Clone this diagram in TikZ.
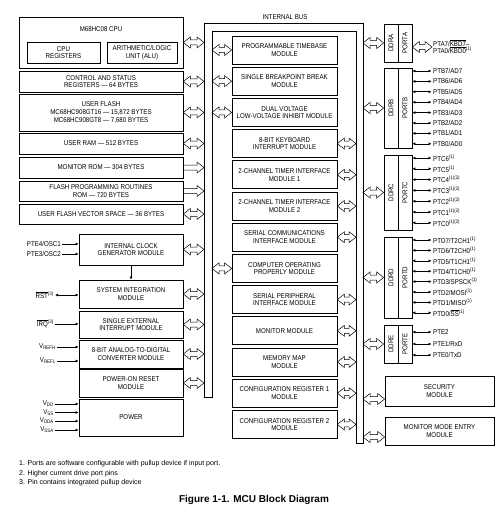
\documentclass[tikz,border=0pt]{standalone}
\usepackage{fontspec}
\setmainfont{Liberation Sans}
\newfontfamily\narrowfont{Liberation Sans}[FakeStretch=0.88]
\usetikzlibrary{calc,arrows.meta}
\newcommand{\ovl}[1]{$\overline{\mbox{#1}}$}
\newcommand{\busarrow}[2]{%
  \path (#1) coordinate (ba1) (#2) coordinate (ba2);
  \draw[busline] (ba1) -- ++(7,-5.5) -- ++(0,3) -- ($(ba2)+(-7,-2.5)$) -- ++(0,-3) -- (ba2)
    -- ++(-7,5.5) -- ++(0,-3) -- ($(ba1)+(7,2.5)$) -- ++(0,3) -- cycle;}
\newcommand{\busarrowR}[2]{%
  \path (#1) coordinate (ba1) (#2) coordinate (ba2);
  \draw[busline] ($(ba1)+(0,-2.5)$) -- ($(ba2)+(-7,-2.5)$) -- ++(0,-3) -- (ba2)
    -- ++(-7,5.5) -- ++(0,-3) -- ($(ba1)+(0,2.5)$);}
\tikzset{
  blk/.style={draw, line width=0.7pt, align=center, inner sep=0pt,
    font=\narrowfont\fontsize{7}{7.6}\selectfont},
  portbox/.style={blk, minimum width=14pt},
  lbl/.style={inner sep=1pt, font=\narrowfont\fontsize{7}{7.6}\selectfont},
  pinlbl/.style={lbl, anchor=west},
  busline/.style={line width=0.5pt},
  pinarr/.style={{Latex[length=3pt,width=3pt]}-{Latex[length=3pt,width=3pt]}, line width=0.6pt},
  inarr/.style={-{Latex[length=3pt,width=3pt]}, line width=0.6pt},
  note/.style={anchor=west, inner sep=0pt, font=\fontsize{7}{8}\selectfont}
}
\begin{document}
\begin{tikzpicture}[x=1pt,y=-1pt]
\useasboundingbox (0,0) rectangle (498,516);

\coordinate (busL) at (204,0);
\coordinate (busLi) at (212,0);
\coordinate (busRi) at (356,0);
\coordinate (busR) at (363,0);
\draw[line width=0.7pt] (204,397) -- (204,23) -- (363,23) -- (363,443) -- (356,443)
  -- (356,31) -- (212,31) -- (212,397) -- cycle;
\node[lbl] (buslbl) at (285,17) {INTERNAL BUS};

\node[blk, minimum width=164pt, minimum height=51pt] (cpu) at (101,42.5) {};
\node[lbl] (cpulbl) at (101,29) {M68HC08 CPU};
\node[blk, minimum width=73pt, minimum height=21pt] (cpureg) at (63.5,52.5) {CPU\\REGISTERS};
\node[blk, minimum width=70pt, minimum height=21pt] (alu) at (142,52.5) {ARITHMETIC/LOGIC\\UNIT (ALU)};
\node[blk, minimum width=164pt, minimum height=21pt] (csr) at (101,81.5) {CONTROL AND STATUS\\REGISTERS — 64 BYTES};
\node[blk, minimum width=164pt, minimum height=37pt] (uflash) at (101,112.5) {USER FLASH\\MC68HC908GT16 — 15,872 BYTES\\MC68HC908GT8 — 7,680 BYTES};
\node[blk, minimum width=164pt, minimum height=21pt] (uram) at (101,143.5) {USER RAM — 512 BYTES};
\node[blk, minimum width=164pt, minimum height=21pt] (monrom) at (101,167.5) {MONITOR ROM — 304 BYTES};
\node[blk, minimum width=164pt, minimum height=20pt] (flashrom) at (101,191) {FLASH PROGRAMMING ROUTINES\\ROM — 720 BYTES};
\node[blk, minimum width=164pt, minimum height=20pt] (vecspace) at (101,214) {USER FLASH VECTOR SPACE — 36 BYTES};

\node[blk, minimum width=104pt, minimum height=31pt] (icg) at (131,249.5) {INTERNAL CLOCK\\GENERATOR MODULE};
\node[blk, minimum width=104pt, minimum height=28pt] (sim) at (131,294) {SYSTEM INTEGRATION\\MODULE};
\node[blk, minimum width=104pt, minimum height=27pt] (sei) at (131,324.5) {SINGLE EXTERNAL\\INTERRUPT MODULE};
\node[blk, minimum width=104pt, minimum height=28pt] (adc) at (131,354) {8-BIT ANALOG-TO-DIGITAL\\CONVERTER MODULE};
\node[blk, minimum width=104pt, minimum height=28pt] (por) at (131,383) {POWER-ON RESET\\MODULE};
\node[blk, minimum width=104pt, minimum height=37pt] (power) at (131,417.5) {POWER};

\busarrow{cpu.east}{cpu.east -| busL}
\busarrow{csr.east}{csr.east -| busL}
\busarrow{uflash.east}{uflash.east -| busL}
\busarrow{uram.east}{uram.east -| busL}
\busarrowR{monrom.east}{monrom.east -| busL}
\busarrowR{flashrom.east}{flashrom.east -| busL}
\busarrow{vecspace.east}{vecspace.east -| busL}
\busarrow{icg.east}{icg.east -| busL}
\busarrow{sim.east}{sim.east -| busL}
\busarrow{sei.east}{sei.east -| busL}
\busarrow{adc.east}{adc.east -| busL}
\busarrow{por.east}{por.east -| busL}

\node[lbl, anchor=east] (osc1) at (62,244) {PTE4/OSC1};
\node[lbl, anchor=east] (osc2) at (62,254) {PTE3/OSC2};
\draw[inarr] (osc1.east) -- (osc1.east -| icg.west);
\draw[inarr] (osc2.east) -- (osc2.east -| icg.west);
\draw[inarr] (icg.south) -- (sim.north);
\node[lbl, anchor=east] (rst) at (55,295) {\ovl{RST}\textsuperscript{(3)}};
\draw[pinarr] (rst.east) -- (rst.east -| sim.west);
\node[lbl, anchor=east] (irq) at (55,324) {\ovl{IRQ}\textsuperscript{(3)}};
\draw[inarr] (irq.east) -- (irq.east -| sei.west);
\node[lbl, anchor=east] (vrefh) at (57,347) {V\textsubscript{REFH}};
\node[lbl, anchor=east] (vrefl) at (57,361) {V\textsubscript{REFL}};
\draw[inarr] (vrefh.east) -- (vrefh.east -| adc.west);
\draw[inarr] (vrefl.east) -- (vrefl.east -| adc.west);
\node[lbl, anchor=east] (vdd) at (55,404) {V\textsubscript{DD}};
\node[lbl, anchor=east] (vss) at (55,412.5) {V\textsubscript{SS}};
\node[lbl, anchor=east] (vdda) at (55,421) {V\textsubscript{DDA}};
\node[lbl, anchor=east] (vssa) at (55,430) {V\textsubscript{SSA}};
\draw[inarr] (vdd.east) -- (vdd.east -| power.west);
\draw[inarr] (vss.east) -- (vss.east -| power.west);
\draw[inarr] (vdda.east) -- (vdda.east -| power.west);
\draw[inarr] (vssa.east) -- (vssa.east -| power.west);

\node[blk, minimum width=105pt, minimum height=28pt] (tbm) at (284.5,50) {PROGRAMMABLE TIMEBASE\\MODULE};
\node[blk, minimum width=105pt, minimum height=28pt] (sbb) at (284.5,81.2) {SINGLE BREAKPOINT BREAK\\MODULE};
\node[blk, minimum width=105pt, minimum height=28pt] (lvi) at (284.5,112.4) {DUAL VOLTAGE\\LOW-VOLTAGE INHIBIT MODULE};
\node[blk, minimum width=105pt, minimum height=28pt] (kbi) at (284.5,143.6) {8-BIT KEYBOARD\\INTERRUPT MODULE};
\node[blk, minimum width=105pt, minimum height=28pt] (tim1) at (284.5,174.8) {2-CHANNEL TIMER INTERFACE\\MODULE 1};
\node[blk, minimum width=105pt, minimum height=28pt] (tim2) at (284.5,206) {2-CHANNEL TIMER INTERFACE\\MODULE 2};
\node[blk, minimum width=105pt, minimum height=28pt] (sci) at (284.5,237.2) {SERIAL COMMUNICATIONS\\INTERFACE MODULE};
\node[blk, minimum width=105pt, minimum height=28pt] (cop) at (284.5,268.4) {COMPUTER OPERATING\\PROPERLY MODULE};
\node[blk, minimum width=105pt, minimum height=28pt] (spi) at (284.5,299.6) {SERIAL PERIPHERAL\\INTERFACE MODULE};
\node[blk, minimum width=105pt, minimum height=28pt] (mon) at (284.5,330.8) {MONITOR MODULE};
\node[blk, minimum width=105pt, minimum height=28pt] (mmap) at (284.5,362) {MEMORY MAP\\MODULE};
\node[blk, minimum width=105pt, minimum height=28pt] (cfg1) at (284.5,393.2) {CONFIGURATION REGISTER 1\\MODULE};
\node[blk, minimum width=105pt, minimum height=28pt] (cfg2) at (284.5,424.4) {CONFIGURATION REGISTER 2\\MODULE};

\busarrow{tbm.west -| busLi}{tbm.west}
\busarrow{sbb.west -| busLi}{sbb.west}
\busarrow{lvi.west -| busLi}{lvi.west}
\busarrow{cop.west -| busLi}{cop.west}
\busarrow{kbi.east}{kbi.east -| busRi}
\busarrow{tim1.east}{tim1.east -| busRi}
\busarrow{tim2.east}{tim2.east -| busRi}
\busarrow{sci.east}{sci.east -| busRi}
\busarrow{spi.east}{spi.east -| busRi}
\busarrow{mon.east}{mon.east -| busRi}
\busarrow{mmap.east}{mmap.east -| busRi}
\busarrow{cfg1.east}{cfg1.east -| busRi}
\busarrow{cfg2.east}{cfg2.east -| busRi}

\node[portbox, minimum height=38pt] (ddra) at (391,43) {\rotatebox{90}{DDRA}};
\node[portbox, minimum height=38pt] (porta) at (405,43) {\rotatebox{90}{PORTA}};
\node[portbox, minimum height=80pt] (ddrb) at (391,108) {\rotatebox{90}{DDRB}};
\node[portbox, minimum height=80pt] (portb) at (405,108) {\rotatebox{90}{PORTB}};
\node[portbox, minimum height=75pt] (ddrc) at (391,192.5) {\rotatebox{90}{DDRC}};
\node[portbox, minimum height=75pt] (portc) at (405,192.5) {\rotatebox{90}{PORTC}};
\node[portbox, minimum height=81pt] (ddrd) at (391,277.5) {\rotatebox{90}{DDRD}};
\node[portbox, minimum height=81pt] (portd) at (405,277.5) {\rotatebox{90}{PORTD}};
\node[portbox, minimum height=38pt] (ddre) at (391,344) {\rotatebox{90}{DDRE}};
\node[portbox, minimum height=38pt] (porte) at (405,344) {\rotatebox{90}{PORTE}};

\busarrow{ddra.west -| busR}{ddra.west}
\busarrow{ddrb.west -| busR}{ddrb.west}
\busarrow{ddrc.west -| busR}{ddrc.west}
\busarrow{ddrd.west -| busR}{ddrd.west}
\busarrow{ddre.west -| busR}{ddre.west}

\node[pinlbl, align=left, font=\narrowfont\fontsize{7}{7}\selectfont] (pa) at (432,47) {PTA7/\ovl{KBD7}–\\PTA0/\ovl{KBD0}\textsuperscript{(1)}};
\busarrow{pa.west -| porta.east}{pa.west}

\foreach \t [count=\i] in {{PTB7/AD7},{PTB6/AD6},{PTB5/AD5},{PTB4/AD4},{PTB3/AD3},{PTB2/AD2},{PTB1/AD1},{PTB0/AD0}}{
  \node[pinlbl] (pb\i) at (432,{71+10.4*(\i-1)}) {\t};
  \draw[pinarr, shorten >=0.5pt] (pb\i.west -| portb.east) -- (pb\i.west);
}
\foreach \t [count=\i] in {PTC6\textsuperscript{(1)},PTC5\textsuperscript{(1)},PTC4\textsuperscript{(1)(2)},PTC3\textsuperscript{(1)(2)},PTC2\textsuperscript{(1)(2)},PTC1\textsuperscript{(1)(2)},PTC0\textsuperscript{(1)(2)}}{
  \node[pinlbl] (pc\i) at (432,{158+10.8*(\i-1)}) {\t};
  \draw[pinarr, shorten >=0.5pt] (pc\i.west -| portc.east) -- (pc\i.west);
}
\foreach \t [count=\i] in {{PTD7/T2CH1\textsuperscript{(1)}},{PTD6/T2CH0\textsuperscript{(1)}},{PTD5/T1CH1\textsuperscript{(1)}},{PTD4/T1CH0\textsuperscript{(1)}},{PTD3/SPSCK\textsuperscript{(1)}},{PTD2/MOSI\textsuperscript{(1)}},{PTD1/MISO\textsuperscript{(1)}},{PTD0/\ovl{SS}\textsuperscript{(1)}}}{
  \node[pinlbl] (pd\i) at (432,{240+10.4*(\i-1)}) {\t};
  \draw[pinarr, shorten >=0.5pt] (pd\i.west -| portd.east) -- (pd\i.west);
}
\node[pinlbl] (pe1) at (432,332) {PTE2};
\node[pinlbl] (pe2) at (432,344) {PTE1/RxD};
\node[pinlbl] (pe3) at (432,355) {PTE0/TxD};
\draw[pinarr, shorten >=0.5pt] (pe1.west -| porte.east) -- (pe1.west);
\draw[pinarr, shorten >=0.5pt] (pe2.west -| porte.east) -- (pe2.west);
\draw[pinarr, shorten >=0.5pt] (pe3.west -| porte.east) -- (pe3.west);

\node[blk, minimum width=109pt, minimum height=30pt] (sec) at (439.5,391) {SECURITY\\MODULE};
\node[blk, minimum width=109pt, minimum height=28pt] (mme) at (439.5,431) {MONITOR MODE ENTRY\\MODULE};
\coordinate (secin) at ($(sec.west)+(0,8)$);
\coordinate (mmein) at ($(mme.west)+(0,6)$);
\busarrow{secin -| busR}{secin}
\busarrow{mmein -| busR}{mmein}

\node[note] (note1) at (19,464) {1. Ports are software configurable with pullup device if input port.};
\node[note] (note2) at (19,473.5) {2. Higher current drive port pins};
\node[note] (note3) at (19,483) {3. Pin contains integrated pullup device};
\node[font=\bfseries\fontsize{10}{11}\selectfont] (caption) at (254,500) {Figure 1-1. MCU Block Diagram};
\end{tikzpicture}
\end{document}
